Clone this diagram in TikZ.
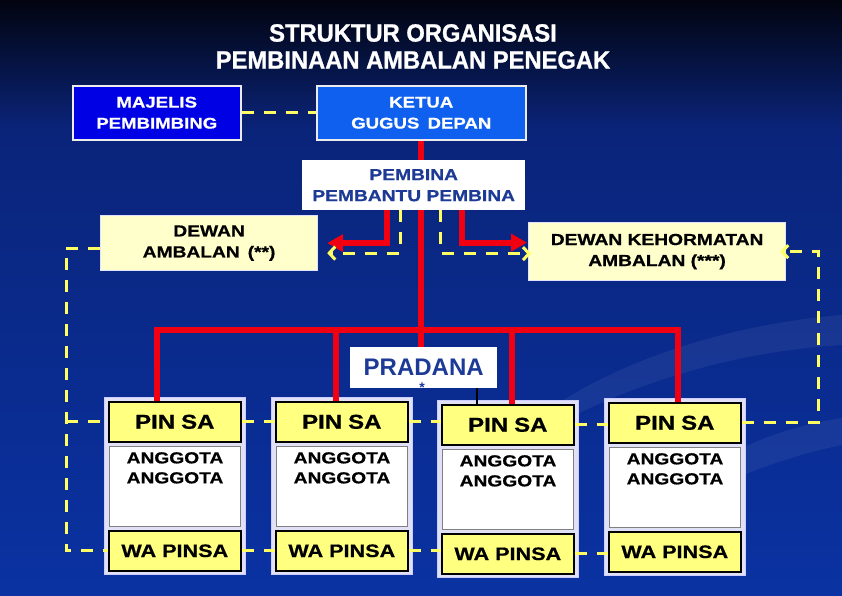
\documentclass[tikz,border=0pt]{standalone}
\usepackage{fontspec}
\setmainfont{Liberation Sans}
\newfontfamily\wb{Liberation Sans Bold}[FakeStretch=1.2,FakeBold=0.7]
\newfontfamily\tb{Liberation Sans Bold}[FakeStretch=0.95,FakeBold=1]
\newfontfamily\pb{Liberation Sans Bold}
\usetikzlibrary{arrows.meta,calc}
\definecolor{bgtop}{RGB}{2,4,15}
\definecolor{bgmid}{RGB}{10,36,122}
\definecolor{bgbot}{RGB}{10,50,162}
\definecolor{majc}{RGB}{0,0,228}
\definecolor{ketc}{RGB}{16,96,240}
\definecolor{txtblue}{RGB}{28,58,150}
\definecolor{creme}{RGB}{255,255,204}
\definecolor{pinyel}{RGB}{255,255,128}
\definecolor{lav}{RGB}{224,224,246}
\definecolor{dyel}{RGB}{255,255,100}
\definecolor{redc}{RGB}{240,0,16}
\tikzset{
 ttl/.style={text=white, font=\tb\fontsize{25}{30}\selectfont, inner sep=0},
 bx/.style={rectangle, anchor=north west, inner sep=0, align=center, font=\wb\fontsize{15.5}{21}\selectfont},
 bluebox/.style={bx, draw=white!85!gray, line width=1.5, text=white},
 cremebox/.style={bx, fill=creme, draw=white!88!blue, line width=1.2, text=black, font=\wb\fontsize{16}{21}\selectfont},
 frame/.style={rectangle, anchor=north west, fill=lav, draw=white!80!blue, line width=0.8, minimum width=141, minimum height=177},
 ybox/.style={bx, fill=pinyel, draw=black, line width=1.6, minimum width=132, minimum height=40, text=black},
 abox/.style={bx, fill=white, draw=gray, line width=1, minimum width=131, minimum height=80},
 ydash/.style={draw=dyel, line width=3, dash pattern=on 12pt off 10pt},
 redl/.style={draw=redc, line width=6},
 redtip/.style={-{Triangle[length=16pt,width=17pt]}},
 ytip/.style={-{Straight Barb[length=6pt,width=13pt,line width=3pt]}},
}
\newcommand{\pgroup}[3]{%
 \node[frame] (g#1) at (#2,#3) {};
 \node[ybox, font=\wb\fontsize{20}{22}\selectfont] (p#1) at (#2+4,#3+4) {PIN\hspace{6pt}SA};
 \node[abox, label={[anchor=north, yshift=-6pt, align=center, font=\wb\fontsize{16}{20}\selectfont, inner sep=0]north:ANGGOTA\\ANGGOTA}] (a#1) at (#2+5,#3+49) {};
 \node[ybox, font=\wb\fontsize{18}{22}\selectfont] (w#1) at (#2+4,#3+133) {WA PINSA};
}
\begin{document}
\begin{tikzpicture}[x=1pt,y=-1pt]
\useasboundingbox (0,0) rectangle (842,595);
% background
\shade[top color=bgtop, bottom color=bgmid] (0,0) rectangle (842,130);
\shade[top color=bgmid, bottom color=bgbot] (0,130) rectangle (842,595);
\fill[white, opacity=0.06] (470,480) .. controls (560,370) and (720,325) .. (842,315) -- (842,345) .. controls (720,352) and (580,395) .. (470,480) -- cycle;
\fill[white, opacity=0.06] (620,540) .. controls (690,455) and (790,425) .. (842,418) -- (842,445) .. controls (790,455) and (700,485) .. (620,540) -- cycle;
% title
\node[ttl] (t1) at (413,33) {STRUKTUR ORGANISASI};
\node[ttl] (t2) at (413,60) {PEMBINAAN AMBALAN PENEGAK};
% top boxes
\node[bluebox, fill=majc, minimum width=168, minimum height=54] (maj) at (72,85) {MAJELIS\\PEMBIMBING};
\node[bluebox, fill=ketc, minimum width=209, minimum height=54] (ket) at (316,85) {KETUA\\GUGUS\hspace{3pt} DEPAN};
\draw[ydash] (maj.east) -- (ket.west);
% pradana
\node[bx, fill=white, minimum width=147, minimum height=41, text=txtblue, font=\pb\fontsize{24}{26}\selectfont] (prad) at (350,347) {PRADANA};
% central red
\draw[redl] (ket.south) -- (ket.south |- prad.north);
\node[bx, fill=white, minimum width=223, minimum height=50, text=txtblue, font=\wb\fontsize{16}{21}\selectfont] (pemb) at (302,160) {PEMBINA\\PEMBANTU PEMBINA};
\node[anchor=center, inner sep=0, text=txtblue, font=\pb\fontsize{14}{14}\selectfont] (star) at (422,388) {*};
% dewan boxes
\node[cremebox, minimum width=217, minimum height=55] (dew) at (100,215) {DEWAN\\AMBALAN\hspace{8pt}(**)};
\node[cremebox, minimum width=257, minimum height=58] (dk) at (528,222) {DEWAN KEHORMATAN\\AMBALAN (***)};
% arrows from pembina
\draw[redl, redtip, shorten >=9pt] ([xshift=-26.5pt]pemb.south) |- (dew.east);
\draw[ydash, ytip, shorten >=9pt] ([xshift=-13.5pt]pemb.south) |- ([yshift=-10pt]dew.east);
\draw[redl, redtip, shorten >=1pt] ([xshift=48.5pt]pemb.south) |- ([yshift=9pt]dk.west);
\draw[ydash, ytip, shorten >=-3pt] ([xshift=27pt]pemb.south) |- ([yshift=-2pt]dk.west);
% groups
\pgroup{1}{104}{397}
\pgroup{2}{271}{397}
\pgroup{3}{437}{400}
\pgroup{4}{604}{398}
% red bar
\coordinate (bl) at (157,330);
\coordinate (bm) at (336,330);
\coordinate (bn) at (512,330);
\coordinate (br) at (678,330);
\draw[redl, line join=miter] (bl |- p1.north) -- (bl) -- (br) -- (br |- p4.north);
\draw[redl] (bm) -- (bm |- p2.north);
\draw[redl] (bn) -- (bn |- p3.north);
% black link
\draw[black, line width=2] ([xshift=53.5pt]prad.south) -- ([xshift=53.5pt]prad.south |- p3.north);
% yellow dashed between groups
\draw[ydash] (p1.east) -- (p1.east -| p2.west);
\draw[ydash] (p2.east) -- (p2.east -| p3.west);
\draw[ydash] (p3.east) -- (p3.east -| p4.west);
\draw[ydash] (w1.east) -- (w1.east -| w2.west);
\draw[ydash] (w2.east) -- (w2.east -| w3.west);
\draw[ydash] (w3.east) -- (w3.east -| w4.west);
% left loop
\coordinate (lc) at (66,0);
\draw[ydash] ([yshift=-5pt]dew.west) -| (lc |- w1.west) -- (w1.west);
\draw[ydash] (lc |- p1.west) -- (p1.west);
% right loop
\coordinate (rc) at (818,0);
\draw[ydash, ytip, shorten >=-6pt] (p4.east) -| (rc |- dk.east) -- (dk.east);
\end{tikzpicture}
\end{document}
